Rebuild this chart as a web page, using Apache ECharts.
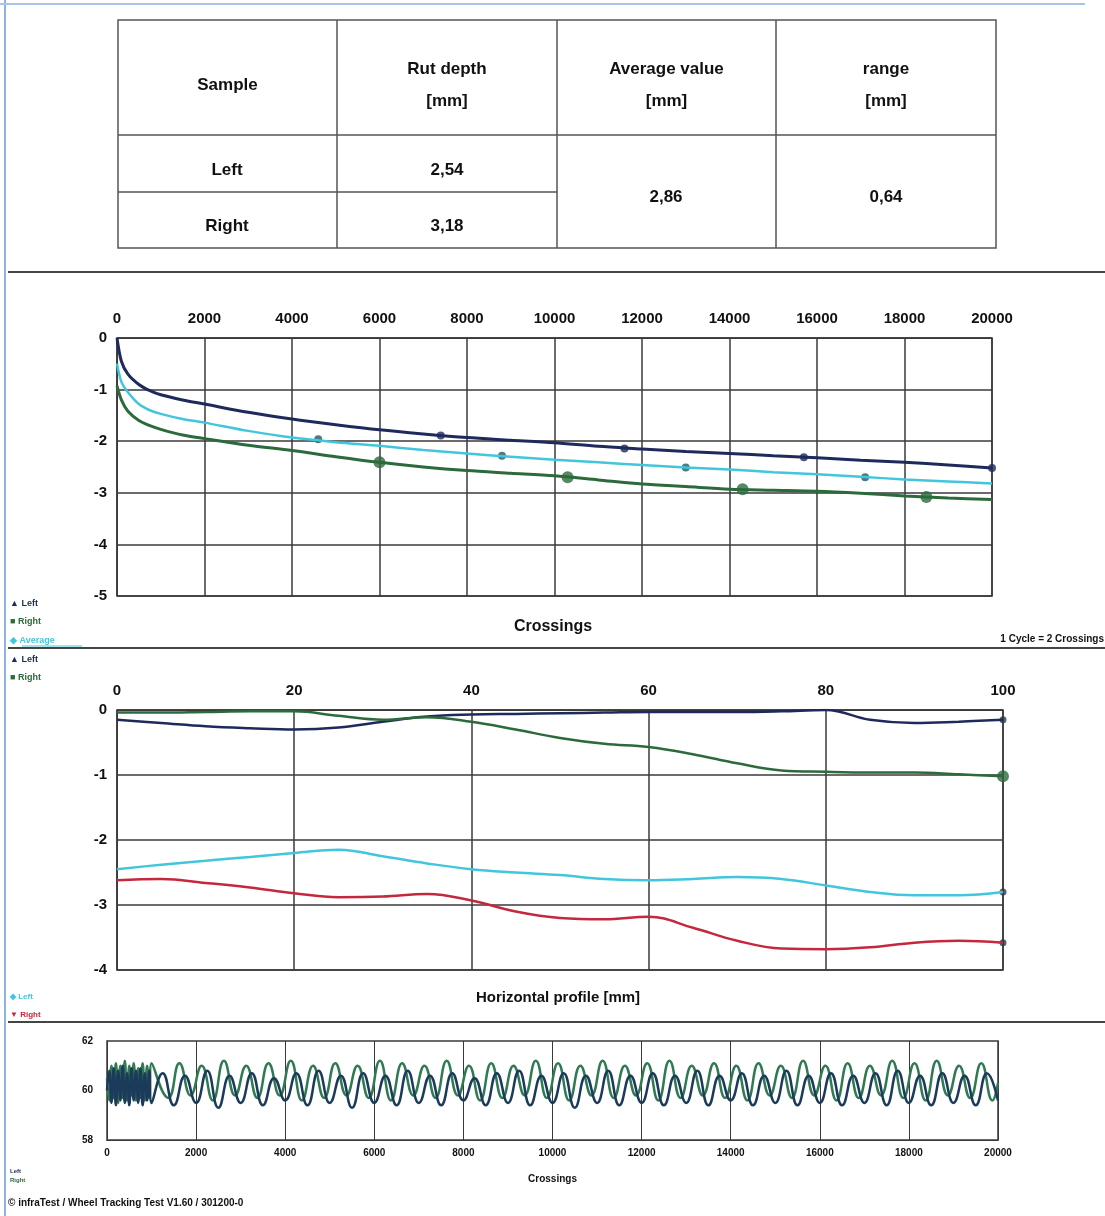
<!DOCTYPE html>
<html><head><meta charset="utf-8">
<script src="https://cdn.jsdelivr.net/npm/echarts@6/dist/echarts.min.js"></script>
<style>html,body{margin:0;padding:0;background:#fff}#c{width:1105px;height:1216px}</style>
</head><body><div id="c"></div>
<script>
// ---- Table ----
const tableHeader = ['Sample', 'Rut depth\n[mm]', 'Average value\n[mm]', 'range\n[mm]'];
const sampleNames = ['Left', 'Right'];
const rutDepths = ['2,54', '3,18'];
const averageValue = '2,86';
const rangeValue = '0,64';

// ---- Chart 1: rut depth vs crossings ----
const crossX = [0, 100, 250, 500, 750, 1000, 1500, 2000, 3000, 4000, 5000, 6000, 7000, 8000, 9000, 10000, 11000, 12000, 13000, 14000, 15000, 16000, 17000, 18000, 19000, 20000];
const rutLeft = [0, -0.45, -0.7, -0.9, -1.02, -1.1, -1.2, -1.28, -1.44, -1.57, -1.68, -1.78, -1.86, -1.93, -1.98, -2.03, -2.1, -2.15, -2.2, -2.24, -2.28, -2.32, -2.37, -2.41, -2.46, -2.52];
const rutAverage = [-0.5, -0.85, -1.05, -1.28, -1.4, -1.47, -1.57, -1.64, -1.8, -1.93, -2.02, -2.09, -2.17, -2.24, -2.3, -2.36, -2.41, -2.46, -2.51, -2.55, -2.6, -2.64, -2.69, -2.74, -2.78, -2.82];
const rutRight = [-0.93, -1.2, -1.42, -1.6, -1.7, -1.77, -1.88, -1.95, -2.08, -2.18, -2.3, -2.41, -2.5, -2.57, -2.62, -2.67, -2.75, -2.83, -2.88, -2.93, -2.95, -2.97, -3.01, -3.06, -3.1, -3.13];
const leftMarks = [[7400, -1.89], [11600, -2.14], [15700, -2.31], [20000, -2.52]];
const averageMarks = [[4600, -1.96], [8800, -2.28], [13000, -2.51], [17100, -2.7]];
const rightMarks = [[6000, -2.41], [10300, -2.7], [14300, -2.93], [18500, -3.08]];

// ---- Chart 2: horizontal profile ----
const profileX = [0, 5, 10, 15, 20, 25, 30, 35, 40, 45, 50, 55, 60, 65, 70, 75, 80, 85, 90, 95, 100];
const profStartLeft = [-0.15, -0.2, -0.25, -0.28, -0.3, -0.27, -0.18, -0.1, -0.07, -0.06, -0.05, -0.04, -0.03, -0.03, -0.03, -0.02, 0.0, -0.15, -0.2, -0.18, -0.15];
const profStartRight = [-0.04, -0.04, -0.03, -0.02, -0.02, -0.09, -0.15, -0.11, -0.18, -0.3, -0.43, -0.52, -0.57, -0.68, -0.82, -0.93, -0.95, -0.96, -0.96, -0.99, -1.02];
const profEndLeft = [-2.45, -2.38, -2.32, -2.26, -2.2, -2.15, -2.25, -2.36, -2.45, -2.5, -2.54, -2.6, -2.62, -2.6, -2.57, -2.6, -2.7, -2.8, -2.85, -2.85, -2.8];
const profEndRight = [-2.62, -2.6, -2.66, -2.73, -2.82, -2.88, -2.87, -2.83, -2.93, -3.1, -3.2, -3.22, -3.18, -3.35, -3.55, -3.67, -3.68, -3.65, -3.58, -3.55, -3.58];

// ---- Chart 3: temperature ----
const tempLeft = [[0,60.0],[50,60.8],[100,59.5],[150,60.9],[200,59.4],[250,60.8],[300,59.6],[350,61.0],[400,59.5],[450,60.7],[500,59.4],[550,60.9],[600,59.6],[650,60.8],[700,59.5],[750,60.9],[800,59.4],[850,60.7],[900,59.6],[950,60.8],[1000,59.5],
[1250,60.7],[1500,59.4],[1750,60.6],[2000,59.5],[2250,60.8],[2500,59.3],[2750,60.6],[3000,59.5],[3250,60.7],[3500,59.4],[3750,60.5],[4000,59.6],[4250,60.7],[4500,59.4],[4750,60.8],[5000,59.5],[5250,60.6],[5500,59.3],[5750,60.7],[6000,59.5],[6250,60.6],[6500,59.4],[6750,60.8],[7000,59.5],[7250,60.6],[7500,59.4],[7750,60.7],[8000,59.6],[8250,60.5],[8500,59.4],[8750,60.7],[9000,59.5],[9250,60.8],[9500,59.4],[9750,60.6],[10000,59.5],[10250,60.7],[10500,59.3],[10750,60.6],[11000,59.5],[11250,60.8],[11500,59.4],[11750,60.6],[12000,59.5],[12250,60.7],[12500,59.4],[12750,60.6],[13000,59.5],[13250,60.8],[13500,59.4],[13750,60.6],[14000,59.6],[14250,60.7],[14500,59.4],[14750,60.6],[15000,59.5],[15250,60.8],[15500,59.4],[15750,60.6],[16000,59.5],[16250,60.7],[16500,59.4],[16750,60.6],[17000,59.5],[17250,60.7],[17500,59.4],[17750,60.8],[18000,59.5],[18250,60.6],[18500,59.4],[18750,60.7],[19000,59.5],[19250,60.6],[19500,59.4],[19750,60.7],[20000,59.6]];
const tempRight = [[0,60.5],[50,59.6],[100,61.0],[150,59.7],[200,61.1],[250,59.5],[300,61.0],[350,59.7],[400,61.2],[450,59.6],[500,61.0],[550,59.8],[600,61.1],[650,59.6],[700,60.9],[750,59.7],[800,61.1],[850,59.6],[900,61.0],[950,59.7],[1000,61.1],
[1375,59.7],[1625,61.1],[1875,59.8],[2125,61.0],[2375,59.6],[2625,61.2],[2875,59.8],[3125,61.0],[3375,59.7],[3625,61.1],[3875,59.8],[4125,61.2],[4375,59.6],[4625,61.0],[4875,59.7],[5125,61.1],[5375,59.8],[5625,61.0],[5875,59.7],[6125,61.2],[6375,59.6],[6625,61.1],[6875,59.8],[7125,61.0],[7375,59.7],[7625,61.2],[7875,59.8],[8125,61.0],[8375,59.6],[8625,61.1],[8875,59.7],[9125,61.0],[9375,59.8],[9625,61.2],[9875,59.7],[10125,61.1],[10375,59.6],[10625,61.0],[10875,59.8],[11125,61.2],[11375,59.7],[11625,61.0],[11875,59.8],[12125,61.1],[12375,59.6],[12625,61.2],[12875,59.7],[13125,61.0],[13375,59.8],[13625,61.1],[13875,59.7],[14125,61.0],[14375,59.6],[14625,61.1],[14875,59.8],[15125,61.0],[15375,59.7],[15625,61.2],[15875,59.8],[16125,61.0],[16375,59.6],[16625,61.1],[16875,59.7],[17125,61.0],[17375,59.8],[17625,61.2],[17875,59.7],[18125,61.1],[18375,59.6],[18625,61.2],[18875,59.8],[19125,61.0],[19375,59.7],[19625,61.1],[19875,59.6],[20000,60.3]];

// ---- styling ----
const FONT = '"Liberation Sans", Arial, sans-serif';
const NAVY = '#1f2a5c', GREEN = '#2c6a3c', CYAN = '#42c6dc', RED = '#c4283e', GRID = '#3a3a3a';
const zip = (xs, ys) => xs.map((x, i) => [x, ys[i]]);
const plain = v => String(v);

const chart = echarts.init(document.getElementById('c'), null, {renderer: 'canvas'});

function txt(text, x, y, size, opts) {
  opts = opts || {};
  return {type: 'text', z: 10, style: Object.assign({text: text, x: x, y: y, fill: opts.fill || '#111',
    font: 'bold ' + size + 'px ' + FONT, textAlign: opts.align || 'center', textVerticalAlign: 'middle',
    lineHeight: opts.lh || size * 1.9}, opts.extra || {}), rotation: opts.rot || 0};
}
function line(x1, y1, x2, y2, color, w) {
  return {type: 'line', z: 5, shape: {x1: x1, y1: y1, x2: x2, y2: y2}, style: {stroke: color || '#555', lineWidth: w || 1.5}};
}

const colX = [118, 337, 557, 776, 996];
const graphics = [
  line(5, 0, 5, 1216, '#8db3e2', 2),
  line(0, 4, 1085, 4, '#a9c6ea', 2),
  {type: 'rect', shape: {x: 118, y: 20, width: 878, height: 228}, style: {fill: 'none', stroke: '#555', lineWidth: 1.5}},
  line(337, 20, 337, 248), line(557, 20, 557, 248), line(776, 20, 776, 248),
  line(118, 135, 996, 135), line(118, 192, 557, 192),
  line(8, 272, 1105, 272, '#444', 2), line(8, 648, 1105, 648, '#444', 2), line(8, 1022, 1105, 1022, '#444', 2)
];
tableHeader.forEach((h, i) => graphics.push(txt(h, (colX[i] + colX[i + 1]) / 2, 85, 17, {lh: 32})));
sampleNames.forEach((s, i) => graphics.push(txt(s, 227, 170 + i * 56, 17)));
rutDepths.forEach((s, i) => graphics.push(txt(s, 447, 170 + i * 56, 17)));
graphics.push(txt(averageValue, 666, 197, 17), txt(rangeValue, 886, 197, 17));
// axis titles & notes
graphics.push(
  txt('Crossings', 553, 627, 16),
  txt('1 Cycle = 2 Crossings', 1104, 639, 10, {align: 'right'}),
  txt('Depth in mm', 40, 467, 9, {rot: Math.PI / 2}),
  txt('Horizontal profile [mm]', 558, 998, 15),
  txt('Depth in mm', 40, 840, 9, {rot: Math.PI / 2}),
  txt('Temp. [°C]', 54, 1090, 9, {rot: Math.PI / 2}),
  txt('\u00A9 infraTest / Wheel Tracking Test V1.60 / 301200-0', 8, 1203, 10, {align: 'left'}),
  // legends
  txt('\u25B2 Left', 10, 604, 9, {align: 'left', fill: NAVY}),
  txt('\u25A0 Right', 10, 622, 9, {align: 'left', fill: GREEN}),
  txt('\u25C6 Average', 10, 641, 9, {align: 'left', fill: CYAN}),
  line(22, 646, 82, 646, CYAN, 1),
  txt('\u25B2 Left', 10, 660, 9, {align: 'left', fill: NAVY}),
  txt('\u25A0 Right', 10, 678, 9, {align: 'left', fill: GREEN}),
  txt('\u25C6 Left', 10, 997, 8, {align: 'left', fill: CYAN}),
  txt('\u25BC Right', 10, 1015, 8, {align: 'left', fill: RED}),
  txt('Left', 10, 1171, 6, {align: 'left', fill: NAVY}),
  txt('Right', 10, 1180, 6, {align: 'left', fill: GREEN})
);

const bigLabel = {fontFamily: FONT, fontWeight: 'bold', fontSize: 15, color: '#111', formatter: plain};
const smallLabel = {fontFamily: FONT, fontWeight: 'bold', fontSize: 10, color: '#111', formatter: plain};
const split = {show: true, lineStyle: {color: GRID, width: 1.5}};

const option = {
  animation: false,
  backgroundColor: '#fff',
  graphic: {elements: graphics},
  grid: [
    {left: 117, top: 338, width: 875, height: 258, show: true, borderColor: GRID, borderWidth: 1.5},
    {left: 117, top: 710, width: 886, height: 260, show: true, borderColor: GRID, borderWidth: 1.5},
    {left: 107, top: 1041, width: 891, height: 99, show: true, borderColor: GRID, borderWidth: 1.5}
  ],
  xAxis: [
    {type: 'value', gridIndex: 0, position: 'top', min: 0, max: 20000, interval: 2000,
      axisLine: {lineStyle: {color: GRID}}, axisTick: {show: false}, axisLabel: Object.assign({margin: 12}, bigLabel), splitLine: split},
    {type: 'value', gridIndex: 1, position: 'top', min: 0, max: 100, interval: 20,
      axisLine: {lineStyle: {color: GRID}}, axisTick: {show: false}, axisLabel: Object.assign({margin: 12}, bigLabel), splitLine: split},
    {type: 'value', gridIndex: 2, position: 'bottom', min: 0, max: 20000, interval: 2000,
      name: 'Crossings', nameLocation: 'middle', nameGap: 34, nameTextStyle: {fontFamily: FONT, fontWeight: 'bold', fontSize: 10, color: '#111'},
      axisLine: {lineStyle: {color: GRID}}, axisTick: {show: false}, axisLabel: Object.assign({margin: 8}, smallLabel),
      splitLine: {show: true, lineStyle: {color: GRID, width: 1}}}
  ],
  yAxis: [
    {type: 'value', gridIndex: 0, min: -5, max: 0, interval: 1,
      axisLine: {lineStyle: {color: GRID}}, axisTick: {show: false}, axisLabel: Object.assign({margin: 10}, bigLabel), splitLine: split},
    {type: 'value', gridIndex: 1, min: -4, max: 0, interval: 1,
      axisLine: {lineStyle: {color: GRID}}, axisTick: {show: false}, axisLabel: Object.assign({margin: 10}, bigLabel), splitLine: split},
    {type: 'value', gridIndex: 2, min: 58, max: 62, interval: 2,
      axisLine: {lineStyle: {color: GRID}}, axisTick: {show: false}, axisLabel: Object.assign({margin: 14}, smallLabel), splitLine: {show: false}}
  ],
  series: [
    {name: 'Average', type: 'line', xAxisIndex: 0, yAxisIndex: 0, smooth: 0.3, showSymbol: false, data: zip(crossX, rutAverage),
      lineStyle: {color: CYAN, width: 2.5}},
    {name: 'Left', type: 'line', xAxisIndex: 0, yAxisIndex: 0, smooth: 0.3, showSymbol: false, data: zip(crossX, rutLeft),
      lineStyle: {color: NAVY, width: 3}},
    {name: 'Right', type: 'line', xAxisIndex: 0, yAxisIndex: 0, smooth: 0.3, showSymbol: false, data: zip(crossX, rutRight),
      lineStyle: {color: GREEN, width: 3}},
    {name: 'Left marks', type: 'scatter', xAxisIndex: 0, yAxisIndex: 0, data: leftMarks, symbolSize: 8, itemStyle: {color: NAVY}},
    {name: 'Average marks', type: 'scatter', xAxisIndex: 0, yAxisIndex: 0, data: averageMarks, symbolSize: 8, itemStyle: {color: '#1f5a6a'}},
    {name: 'Right marks', type: 'scatter', xAxisIndex: 0, yAxisIndex: 0, data: rightMarks, symbolSize: 12, itemStyle: {color: GREEN}},

    {name: 'Profile start left', type: 'line', xAxisIndex: 1, yAxisIndex: 1, smooth: 0.4, showSymbol: false, data: zip(profileX, profStartLeft),
      lineStyle: {color: NAVY, width: 2.5}},
    {name: 'Profile start right', type: 'line', xAxisIndex: 1, yAxisIndex: 1, smooth: 0.4, showSymbol: false, data: zip(profileX, profStartRight),
      lineStyle: {color: GREEN, width: 2.5}},
    {name: 'Profile end left', type: 'line', xAxisIndex: 1, yAxisIndex: 1, smooth: 0.4, showSymbol: false, data: zip(profileX, profEndLeft),
      lineStyle: {color: CYAN, width: 2.5}},
    {name: 'Profile end right', type: 'line', xAxisIndex: 1, yAxisIndex: 1, smooth: 0.4, showSymbol: false, data: zip(profileX, profEndRight),
      lineStyle: {color: RED, width: 2.5}},
    {name: 'Profile marks small', type: 'scatter', xAxisIndex: 1, yAxisIndex: 1, symbolSize: 7, itemStyle: {color: '#2a3a4a'},
      data: [[profileX[profileX.length - 1], profStartLeft[profStartLeft.length - 1]], [profileX[profileX.length - 1], profEndLeft[profEndLeft.length - 1]], [profileX[profileX.length - 1], profEndRight[profEndRight.length - 1]]]},
    {name: 'Profile marks big', type: 'scatter', xAxisIndex: 1, yAxisIndex: 1, symbolSize: 12, itemStyle: {color: GREEN},
      data: [[profileX[profileX.length - 1], profStartRight[profStartRight.length - 1]]]},

    {name: 'Temp right', type: 'line', xAxisIndex: 2, yAxisIndex: 2, smooth: 0.5, showSymbol: false, data: tempRight,
      lineStyle: {color: '#2f7a52', width: 2.5}},
    {name: 'Temp left', type: 'line', xAxisIndex: 2, yAxisIndex: 2, smooth: 0.5, showSymbol: false, data: tempLeft,
      lineStyle: {color: '#1c3b5a', width: 2.5}}
  ]
};
chart.setOption(option);
</script>
</body></html>
